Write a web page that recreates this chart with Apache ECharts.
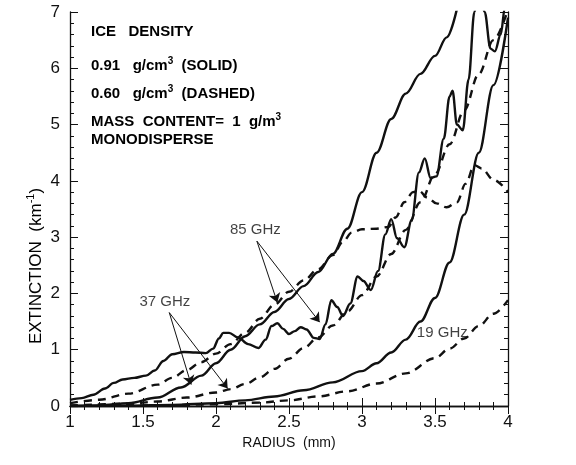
<!DOCTYPE html>
<html><head><meta charset="utf-8">
<script src="https://cdn.jsdelivr.net/npm/echarts@6/dist/echarts.min.js"></script>
<style>html,body{margin:0;padding:0;background:#fff}#c{width:576px;height:465px}</style>
</head><body><div id="c"></div>
<script>
// ---- data (radius mm, extinction km^-1) ----
const xTicks = [1, 1.5, 2, 2.5, 3, 3.5, 4];
const yTicks = [0, 1, 2, 3, 4, 5, 6, 7];

const ghz85Solid = [[1.00,0.11],[1.08,0.14],[1.16,0.2],[1.24,0.31],[1.30,0.41],[1.36,0.47],[1.44,0.5],[1.52,0.54],[1.58,0.63],[1.64,0.8],[1.70,0.92],[1.78,0.96],[1.86,0.95],[1.93,0.94],[1.98,1.02],[2.02,1.2],[2.05,1.3],[2.09,1.3],[2.15,1.22],[2.22,1.1],[2.29,1.03],[2.34,1.18],[2.38,1.42],[2.42,1.47],[2.46,1.37],[2.50,1.28],[2.54,1.33],[2.58,1.4],[2.62,1.36],[2.67,1.21],[2.71,1.19],[2.75,1.45],[2.79,1.88],[2.83,1.76],[2.87,1.6],[2.92,1.82],[2.97,2.3],[3.01,2.22],[3.06,2.06],[3.11,2.4],[3.16,3.05],[3.20,3.32],[3.24,2.98],[3.29,2.82],[3.34,3.3],[3.39,4.15],[3.43,4.4],[3.47,4.05],[3.51,4.08],[3.56,4.75],[3.60,5.5],[3.62,5.6],[3.65,5.0],[3.69,4.9],[3.73,5.8],[3.77,7.0],[3.80,7.6],[3.84,7.0],[3.88,6.35],[3.91,6.3],[3.95,6.6],[3.98,7.1],[4.00,7.4]];
const ghz85Dashed = [[1.0,0.05],[1.2,0.11],[1.4,0.22],[1.6,0.38],[1.7,0.5],[1.8,0.64],[1.9,0.78],[2.0,0.93],[2.1,1.1],[2.2,1.3],[2.3,1.55],[2.4,1.8],[2.5,2.03],[2.6,2.23],[2.7,2.43],[2.8,2.68],[2.87,2.92],[2.93,3.08],[3.0,3.14],[3.1,3.15],[3.18,3.18],[3.23,3.35],[3.29,3.62],[3.35,3.8],[3.39,3.82],[3.45,3.7],[3.51,3.6],[3.58,3.53],[3.65,3.62],[3.71,3.95],[3.77,4.28],[3.82,4.22],[3.9,4.02],[4.0,3.8]];
const ghz37Solid = [[1.0,0.0],[1.2,0.01],[1.4,0.05],[1.6,0.15],[1.76,0.33],[1.9,0.54],[2.0,0.76],[2.1,1.0],[2.2,1.24],[2.3,1.45],[2.4,1.67],[2.5,1.9],[2.6,2.13],[2.7,2.38],[2.8,2.7],[2.9,3.15],[3.0,3.8],[3.1,4.5],[3.2,5.1],[3.3,5.55],[3.4,5.9],[3.5,6.22],[3.58,6.55],[3.65,7.05]];
const ghz37Dashed = [[1.0,0.01],[1.4,0.04],[1.6,0.08],[1.8,0.15],[2.0,0.24],[2.1,0.3],[2.2,0.39],[2.3,0.51],[2.4,0.66],[2.5,0.84],[2.6,1.03],[2.7,1.22],[2.8,1.43],[2.9,1.68],[3.0,1.97],[3.1,2.3],[3.2,2.7],[3.3,3.13],[3.4,3.62],[3.5,4.12],[3.6,4.65],[3.7,5.25],[3.8,5.9],[3.9,6.5],[4.0,7.05]];
const ghz19Solid = [[1.0,0.0],[1.4,0.005],[1.7,0.02],[2.0,0.05],[2.2,0.1],[2.4,0.17],[2.6,0.28],[2.8,0.42],[3.0,0.62],[3.1,0.76],[3.2,0.95],[3.3,1.18],[3.4,1.5],[3.5,1.92],[3.6,2.55],[3.7,3.4],[3.8,4.5],[3.9,5.7],[4.0,6.9]];
const ghz19Dashed = [[1.0,0.0],[1.6,0.01],[2.0,0.03],[2.3,0.06],[2.5,0.1],[2.7,0.17],[2.9,0.26],[3.1,0.4],[3.3,0.58],[3.5,0.85],[3.6,1.02],[3.7,1.2],[3.8,1.42],[3.9,1.64],[4.0,1.88]];

// annotation labels [text, radius, extinction]
const annoLabels = [['85 GHz', 2.27, 3.13], ['37 GHz', 1.65, 1.85], ['19 GHz', 3.55, 1.3]];
// arrows: start point and tips (data coords)
const arrow85Start = [2.28, 2.93];
const arrow85Tips = [[2.42, 1.84], [2.71, 1.49]];
const arrow37Start = [1.68, 1.66];
const arrow37Tips = [[1.83, 0.38], [2.08, 0.31]];

const legendLines = [
  '{b|ICE   DENSITY}',
  '{b|0.91   g/cm}{s|3}{b|  (SOLID)}',
  '{b|0.60   g/cm}{s|3}{b|  (DASHED)}',
  '{b|MASS  CONTENT=  1  g/m}{s|3}',
  '{b|MONODISPERSE}'
];

// ---- chart ----
const FONT = 'Liberation Sans, Arial, Helvetica, sans-serif';
const INK = '#111';
const chart = echarts.init(document.getElementById('c'), null, {renderer: 'canvas'});

function curve(data, dashed) {
  return {
    type: 'line', data: data, showSymbol: false, symbol: 'none',
    smooth: 0.35, smoothMonotone: 'x', clip: true, silent: true,
    lineStyle: {color: INK, width: 2.4, type: dashed ? [8, 6] : 'solid'},
    animation: false, z: 3
  };
}

function arrows(start, tips) {
  return tips.map(t => [{coord: start}, {coord: t}]);
}

const rich = {
  b: {fontFamily: FONT, fontWeight: 'bold', fontSize: 15, lineHeight: 20, color: INK},
  s: {fontFamily: FONT, fontWeight: 'bold', fontSize: 10, lineHeight: 11, verticalAlign: 'top', color: INK}
};
const legendY = [32, 66, 94, 122, 140];

const axisCommon = {
  type: 'value', min: 1, max: 4, interval: 0.5,
  axisLine: {show: true, lineStyle: {color: INK, width: 1.3}},
  axisTick: {show: true, inside: true, length: 8, lineStyle: {color: INK, width: 1}},
  minorTick: {show: true, splitNumber: 5, length: 4, lineStyle: {color: INK, width: 1}},
  splitLine: {show: false}, minorSplitLine: {show: false}
};

const option = {
  animation: false,
  backgroundColor: '#fff',
  grid: {left: 70, right: 68, top: 12, bottom: 59, containLabel: false},
  xAxis: [
    Object.assign({}, axisCommon, {
      position: 'bottom',
      axisLabel: {show: true, fontFamily: FONT, fontSize: 17, color: INK, margin: 8,
        formatter: v => xTicks.indexOf(v) >= 0 ? String(v) : ''},
      name: 'RADIUS  (mm)', nameLocation: 'middle', nameGap: 29,
      nameTextStyle: {fontFamily: FONT, fontSize: 14, color: INK}
    }),
    Object.assign({}, axisCommon, {position: 'top', axisLabel: {show: false}})
  ],
  yAxis: [
    Object.assign({}, axisCommon, {
      min: 0, max: 7, interval: 1, position: 'left',
      axisLabel: {show: true, fontFamily: FONT, fontSize: 17, color: INK, margin: 10,
        formatter: v => yTicks.indexOf(v) >= 0 ? String(v) : ''}
    }),
    Object.assign({}, axisCommon, {min: 0, max: 7, interval: 1, position: 'right', axisLabel: {show: false}})
  ],
  graphic: [
    {
      type: 'text', x: 36, y: 266, rotation: Math.PI / 2, silent: true,
      style: {
        text: '{a|EXTINCTION  (km}{s|-1}{a|)}',
        rich: {
          a: {fontFamily: FONT, fontSize: 17, lineHeight: 21, color: INK},
          s: {fontFamily: FONT, fontSize: 11, lineHeight: 11, verticalAlign: 'top', color: INK}
        },
        align: 'center', verticalAlign: 'middle', textAlign: 'center', textVerticalAlign: 'middle'
      }
    }
  ].concat(legendLines.map((t, i) => ({
    type: 'text', x: 91, y: legendY[i], silent: true,
    style: {text: t, rich: rich, align: 'left', verticalAlign: 'middle', textAlign: 'left', textVerticalAlign: 'middle'}
  }))),
  series: [
    curve(ghz85Solid, false),
    curve(ghz85Dashed, true),
    curve(ghz37Solid, false),
    curve(ghz37Dashed, true),
    curve(ghz19Solid, false),
    curve(ghz19Dashed, true),
    {
      type: 'scatter', symbolSize: 0, silent: true, animation: false, z: 5,
      data: annoLabels.map(a => ({name: a[0], value: [a[1], a[2]]})),
      label: {show: true, position: 'inside', formatter: '{b}', fontFamily: FONT, fontSize: 15, color: INK},
      markLine: {
        silent: true, animation: false, symbol: ['none', 'arrow'], symbolSize: 9,
        lineStyle: {color: INK, width: 1, type: 'solid'},
        label: {show: false},
        data: arrows(arrow85Start, arrow85Tips).concat(arrows(arrow37Start, arrow37Tips))
      }
    }
  ]
};
chart.setOption(option);
</script>
</body></html>
